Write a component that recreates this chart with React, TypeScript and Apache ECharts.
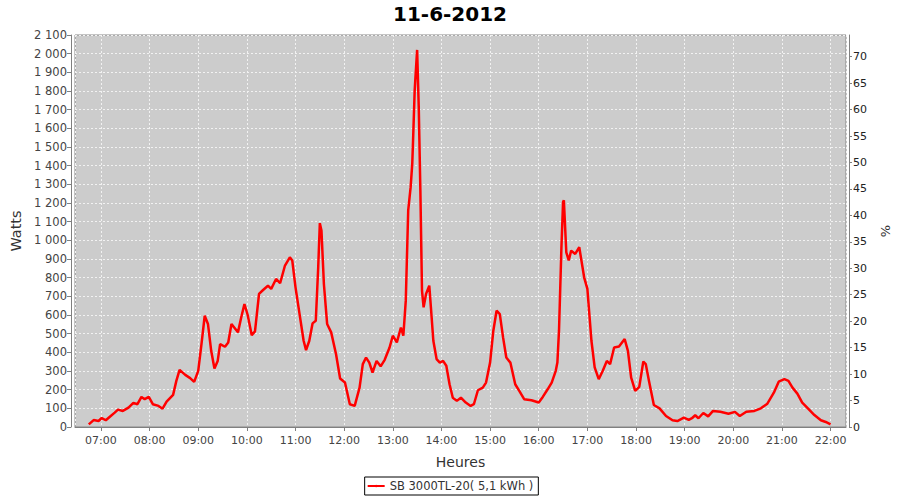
import React, { useEffect, useRef } from "react";
import * as echarts from "echarts";

const TITLE = "11-6-2012";
const SERIES_NAME = "SB 3000TL-20( 5,1 kWh )";

const times: string[] = [
  "06:45", "06:51", "06:57", "07:01", "07:06", "07:11", "07:17", "07:21", "07:27", "07:34",
  "07:40", "07:45", "07:50", "07:54", "07:59", "08:04", "08:11", "08:16", "08:21", "08:29",
  "08:33", "08:37", "08:44", "08:50", "08:55", "09:00", "09:04", "09:08", "09:12", "09:16",
  "09:20", "09:24", "09:27", "09:33", "09:37", "09:41", "09:49", "09:53", "09:57", "10:01",
  "10:06", "10:10", "10:15", "10:20", "10:26", "10:30", "10:36", "10:41", "10:47", "10:53",
  "10:56", "11:00", "11:05", "11:10", "11:13", "11:17", "11:21", "11:25", "11:28", "11:30",
  "11:32", "11:35", "11:39", "11:44", "11:50", "11:55", "12:01", "12:07", "12:13", "12:19",
  "12:23", "12:27", "12:31", "12:35", "12:40", "12:45", "12:50", "12:56", "13:00", "13:05",
  "13:10", "13:13", "13:16", "13:19", "13:22", "13:24", "13:25", "13:27", "13:30", "13:32",
  "13:34", "13:36", "13:38", "13:41", "13:45", "13:47", "13:50", "13:54", "13:58", "14:02",
  "14:06", "14:10", "14:14", "14:19", "14:24", "14:30", "14:36", "14:40", "14:45", "14:51",
  "14:55", "15:00", "15:04", "15:08", "15:12", "15:16", "15:20", "15:25", "15:31", "15:36",
  "15:42", "15:51", "16:00", "16:05", "16:11", "16:16", "16:21", "16:23", "16:25", "16:28",
  "16:30", "16:31", "16:34", "16:37", "16:40", "16:45", "16:50", "16:56", "17:00", "17:05",
  "17:09", "17:14", "17:19", "17:24", "17:28", "17:33", "17:39", "17:46", "17:50", "17:54",
  "17:59", "18:04", "18:09", "18:12", "18:16", "18:22", "18:29", "18:37", "18:45", "18:51",
  "18:59", "19:05", "19:09", "19:13", "19:17", "19:23", "19:29", "19:35", "19:44", "19:54",
  "20:02", "20:08", "20:16", "20:26", "20:34", "20:42", "20:50", "20:56", "21:03", "21:08",
  "21:13", "21:19", "21:25", "21:32", "21:40", "21:48", "21:54", "22:00",
];

const watts: number[] = [
  14, 37, 32, 48, 36, 55, 77, 93, 86, 104,
  129, 122, 161, 149, 161, 122, 113, 98, 136, 172,
  247, 306, 279, 262, 242, 301, 444, 596, 552, 408,
  313, 354, 444, 430, 453, 552, 507, 587, 659, 600,
  492, 512, 713, 734, 757, 740, 793, 770, 865, 909,
  892, 748, 605, 462, 412, 462, 555, 569, 856, 1092,
  1053, 766, 552, 507, 390, 260, 238, 122, 113, 211,
  337, 372, 345, 292, 354, 325, 360, 426, 489, 453,
  533, 489, 677, 1160, 1285, 1411, 1536, 1805, 2020, 1715,
  1268, 730, 641, 713, 757, 641, 462, 364, 345, 354,
  328, 229, 157, 140, 157, 131, 113, 122, 197, 211,
  238, 345, 516, 623, 605, 480, 372, 345, 229, 193,
  149, 143, 131, 161, 202, 238, 301, 345, 516, 963,
  1205, 1214, 936, 892, 945, 927, 963, 802, 740, 462,
  319, 256, 301, 354, 337, 426, 431, 471, 408, 265,
  193, 215, 351, 337, 247, 118, 100, 59, 36, 32,
  50, 38, 47, 63, 47, 75, 57, 86, 82, 71,
  81, 59, 82, 86, 100, 125, 184, 243, 256, 247,
  211, 179, 131, 100, 64, 36, 27, 14,
];

const X_MIN = "06:28";
const X_MAX = "22:19";
const W_MAX = 2100;
const PCT_MAX = 74.1;

const FONT = "DejaVu Sans";

function toTs(t: string): number {
  const [h, m] = t.split(":").map(Number);
  return new Date(2012, 5, 11, h, m, 0).getTime();
}

function fmtThousands(v: number): string {
  const s = String(Math.round(v));
  return s.replace(/\B(?=(\d{3})+(?!\d))/g, " ");
}

export default function App() {
  const ref = useRef<HTMLDivElement>(null);

  useEffect(() => {
    if (!ref.current) return;
    const chart = echarts.init(ref.current, null, { renderer: "svg" });
    const data = times.map((t, i) => [toTs(t), watts[i]]);
    const axisGrey = "#808080";
    const labelColor = "#444444";
    chart.setOption({
      animation: false,
      backgroundColor: "#ffffff",
      textStyle: { fontFamily: FONT },
      title: {
        text: TITLE,
        left: "center",
        top: -1,
        textStyle: { fontFamily: FONT, fontSize: 20, fontWeight: "bold", color: "#000000" },
      },
      grid: {
        left: 75,
        right: 53,
        top: 35,
        bottom: 73,
        show: true,
        backgroundColor: "#cccccc",
        borderColor: "#888888",
        borderWidth: 1,
      },
      legend: {
        data: [SERIES_NAME],
        left: "center",
        top: 477,
        padding: [3, 5, 3, 2],
        borderColor: "#000000",
        borderWidth: 1,
        itemWidth: 17,
        itemHeight: 3,
        itemGap: 3,
        textStyle: { fontFamily: FONT, fontSize: 11.5, color: "#333333" },
      },
      xAxis: {
        type: "time",
        min: toTs(X_MIN),
        max: toTs(X_MAX),
        minInterval: 3600 * 1000,
        maxInterval: 3600 * 1000,
        offset: 4,
        name: "Heures",
        nameLocation: "middle",
        nameGap: 24,
        nameTextStyle: { fontFamily: FONT, fontSize: 14, color: "#333333" },
        axisLine: { show: true, lineStyle: { color: axisGrey, width: 1 } },
        axisTick: { show: true, length: 4, lineStyle: { color: axisGrey } },
        axisLabel: {
          formatter: "{HH}:{mm}",
          fontFamily: FONT,
          fontSize: 11,
          color: labelColor,
          margin: 4,
          hideOverlap: false,
        },
        splitLine: { show: true, lineStyle: { color: "#f2f2f2", type: [2, 2], width: 1 } },
      },
      yAxis: [
        {
          type: "value",
          min: 0,
          max: W_MAX,
          interval: 100,
          offset: 4,
          name: "Watts",
          nameLocation: "middle",
          nameGap: 43,
          nameRotate: 90,
          nameTextStyle: { fontFamily: FONT, fontSize: 14.5, color: "#333333" },
          axisLine: { show: true, lineStyle: { color: axisGrey, width: 1 } },
          axisTick: { show: true, length: 4, lineStyle: { color: axisGrey } },
          axisLabel: {
            formatter: (v: number) => fmtThousands(v),
            fontFamily: FONT,
            fontSize: 11.5,
            color: labelColor,
            margin: 4,
          },
          splitLine: { show: true, lineStyle: { color: "#f2f2f2", type: [2, 2], width: 1 } },
        },
        {
          type: "value",
          min: 0,
          max: PCT_MAX,
          interval: 5,
          offset: 3,
          position: "right",
          name: "%",
          nameLocation: "middle",
          nameGap: 30,
          nameRotate: 90,
          nameTextStyle: { fontFamily: FONT, fontSize: 13, color: "#333333" },
          axisLine: { show: true, lineStyle: { color: axisGrey, width: 1 } },
          axisTick: { show: true, length: 3, lineStyle: { color: axisGrey } },
          axisLabel: {
            formatter: (v: number) => (Math.abs(v % 5) < 1e-6 ? String(v) : ""),
            showMaxLabel: false,
            fontFamily: FONT,
            fontSize: 11,
            color: "#222222",
            margin: 4,
          },
          splitLine: { show: false },
        },
      ],
      series: [
        {
          name: SERIES_NAME,
          type: "line",
          yAxisIndex: 0,
          data,
          showSymbol: false,
          symbol: "none",
          lineStyle: { color: "#ff0000", width: 2.5 },
          itemStyle: { color: "#ff0000" },
          smooth: false,
        },
      ],
    });
    return () => chart.dispose();
  }, []);

  return (
    <div
      ref={ref}
      style={{ position: "fixed", left: 0, top: 0, width: 900, height: 500, background: "#fff" }}
    />
  );
}
